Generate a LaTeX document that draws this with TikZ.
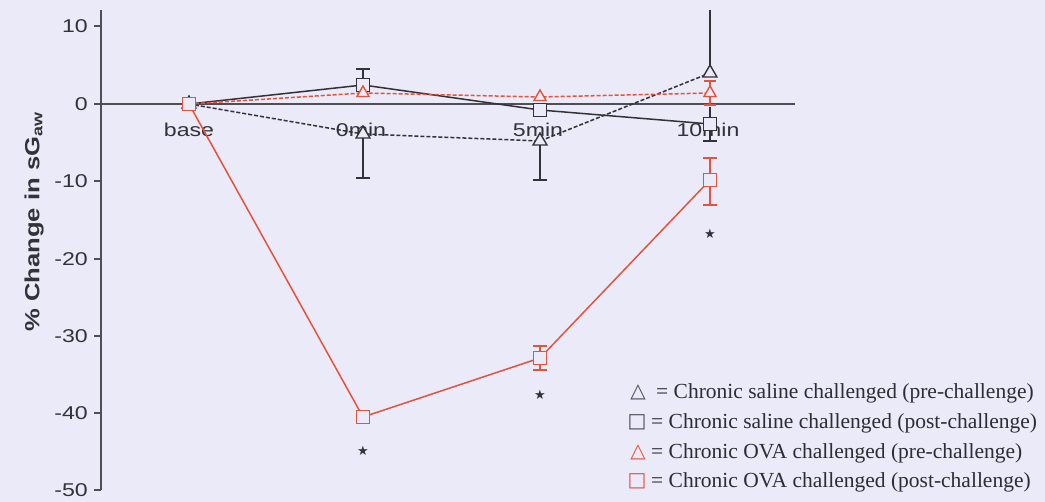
\documentclass[tikz,border=0pt]{standalone}
\usepackage{fontspec}
\setmainfont{Liberation Serif}
\newfontfamily\axfont[FakeStretch=1.25]{Liberation Sans}
\newfontfamily\symfont{DejaVu Sans}
\usetikzlibrary{shapes.geometric}
\definecolor{bg}{RGB}{234,234,248}
\definecolor{axc}{RGB}{78,78,84}
\definecolor{blk}{RGB}{50,50,56}
\definecolor{ovared}{RGB}{230,82,60}
\definecolor{txt}{RGB}{45,45,52}
\begin{document}
\begin{tikzpicture}[x=1pt,y=-1pt,
  axisline/.style={draw=axc,line width=2pt},
  ticklab/.style={font=\axfont\fontsize{18.5}{20}\selectfont,text=blk,anchor=east,inner sep=0pt},
  xlab/.style={font=\axfont\fontsize{18.5}{20}\selectfont,text=blk,inner sep=0pt,anchor=base},
  sqmark/.style={draw,rectangle,minimum size=13pt,inner sep=0pt,fill=bg,line width=1.4pt},
  trimark/.style={draw,regular polygon,regular polygon sides=3,minimum size=16pt,inner sep=0pt,fill=bg,line width=1.4pt},
  serline/.style={line width=1.5pt},
  dashser/.style={line width=1.5pt,dash pattern=on 4pt off 2pt},
  ebar/.style={line width=1.4pt},
  star/.style={font=\symfont\fontsize{13}{14}\selectfont,text=blk,inner sep=0pt},
  legsym/.style={font=\symfont\fontsize{20}{22}\selectfont,inner sep=0pt,anchor=center},
  legtxt/.style={font=\fontsize{21.5}{24}\selectfont,text=txt,inner sep=0pt,anchor=west}
]
\path[fill=bg] (0,0) rectangle (1045,502);
\useasboundingbox (0,0) rectangle (1045,502);

% axes
\coordinate (ytop) at (101,10);
\coordinate (ybot) at (101,490);
\coordinate (zl) at (101,104);
\coordinate (zr) at (795,104);
\draw[axisline] (ytop) -- (ybot);
\draw[axisline] (zl) -- (zr);
\foreach \v/\yy in {10/26,0/104,-10/181,-20/259,-30/336,-40/413,-50/490}{
  \draw[axisline] (94,\yy) -- (101,\yy);
  \node[ticklab] (t\v) at (88,\yy) {\v};
}
\node[font=\axfont\bfseries\fontsize{20.5}{22}\selectfont,text=blk,rotate=90,inner sep=0pt] (ylab) at (34,222) {\% Change in sG\textsubscript{aw}};

% x labels
\node[xlab] (lbase) at (189,137) {base};
\node[xlab] (l0) at (361,137) {0min};
\node[xlab] (l5) at (538,137) {5min};
\node[xlab] (l10) at (708,137) {10min};

% data coordinates
\coordinate (b) at (189,104);
\coordinate (sp0) at (363,134); \coordinate (sp5) at (540,141); \coordinate (sp10) at (710,73);
\coordinate (sq0) at (363,85);  \coordinate (sq5) at (540,110); \coordinate (sq10) at (710,124);
\coordinate (op0) at (363,93);  \coordinate (op5) at (540,97);  \coordinate (op10) at (710,93);
\coordinate (oq0) at (363,417); \coordinate (oq5) at (540,358); \coordinate (oq10) at (710,180);

% series lines
\draw[dashser,blk] (b) -- (sp0) -- (sp5) -- (sp10);
\draw[serline,blk] (b) -- (sq0) -- (sq5) -- (sq10);
\draw[dashser,ovared] (b) -- (op0) -- (op5) -- (op10);
\draw[serline,ovared] (b) -- (oq0) -- (oq5) -- (oq10);

% error bars (black)
\draw[ebar,blk] (363,134) -- (363,178) (356,178) -- (370,178);
\draw[ebar,blk] (540,141) -- (540,180) (533,180) -- (547,180);
\draw[ebar,blk] (710,73) -- (710,10);
\draw[ebar,blk] (363,85) -- (363,69) (356,69) -- (370,69);
\draw[ebar,blk] (710,124) -- (710,141) (703,141) -- (717,141);
\draw[ebar,blk] (710,124) -- (710,107);
% error bars (red)
\draw[ebar,ovared] (710,93) -- (710,81) (704,81) -- (716,81);
\draw[ebar,ovared] (710,93) -- (710,105) (704,105) -- (716,105);
\draw[ebar,ovared] (540,358) -- (540,346) (533,346) -- (547,346);
\draw[ebar,ovared] (540,358) -- (540,370) (533,370) -- (547,370);
\draw[ebar,ovared] (710,180) -- (710,158) (703,158) -- (717,158);
\draw[ebar,ovared] (710,180) -- (710,205) (703,205) -- (717,205);

% markers
\foreach \p in {b,sp0,sp5,sp10}{\node[trimark,draw=blk] at (\p) {};}
\foreach \p in {sq0,sq5,sq10}{\node[sqmark,draw=blk] at (\p) {};}
\foreach \p in {op0,op5,op10}{\node[trimark,draw=ovared,minimum size=14pt] at (\p) {};}
\foreach \p in {oq0,oq5,oq10}{\node[sqmark,draw=ovared] at (\p) {};}
\node[sqmark,draw=ovared] (mb) at (b) {};

% asterisks
\node[star] (s0) at (363,451) {★};
\node[star] (s5) at (540,395) {★};
\node[star] (s10) at (710,234) {★};

% legend
\node[legsym,text=axc] (g1) at (638,392) {△};
\node[legsym,text=axc] (g2) at (637,422) {□};
\node[legsym,text=ovared] (g3) at (638,452) {△};
\node[legsym,text=ovared] (g4) at (637,481) {□};
\node[legtxt] (e1) at (656,393) {= Chronic saline challenged (pre-challenge)};
\node[legtxt] (e2) at (651,423) {= Chronic saline challenged (post-challenge)};
\node[legtxt] (e3) at (651,453) {= Chronic OVA challenged (pre-challenge)};
\node[legtxt] (e4) at (651,482) {= Chronic OVA challenged (post-challenge)};
\end{tikzpicture}
\end{document}
